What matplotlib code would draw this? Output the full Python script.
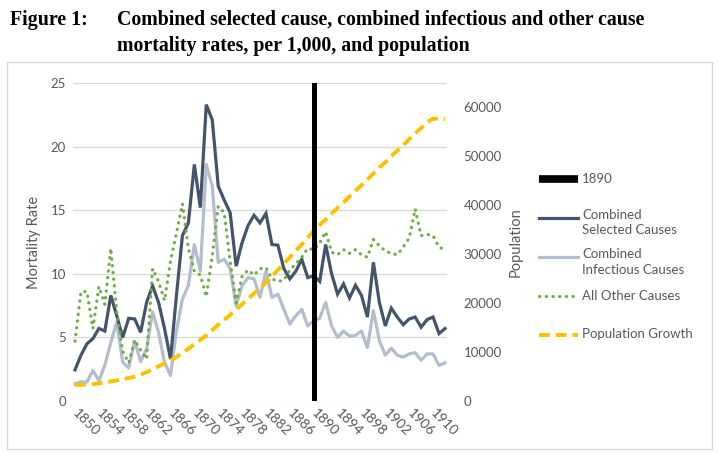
import matplotlib.pyplot as plt
import numpy as np
from matplotlib.lines import Line2D
from matplotlib.patches import Rectangle

# values, one per year 1850..1912
years = np.arange(1850, 1913)

selected = [2.45, 3.6, 4.5, 4.9, 5.7, 5.5, 8.3, 6.7, 5.0, 6.5,
            6.45, 5.4, 7.75, 9.05, 7.75, 5.7, 3.3, 8.3, 13.0, 14.0,
            18.6, 15.2, 23.3, 22.1, 16.9, 15.8, 14.8, 10.6, 12.45, 13.8,
            14.6, 14.0, 14.75, 12.3, 12.25, 10.4, 9.6, 10.2, 11.15, 9.7,
            9.85, 9.4, 12.3, 10.0, 8.4, 9.2, 8.1, 9.1, 8.3, 6.6,
            10.9, 7.75, 5.9, 7.3, 6.6, 6.0, 6.45, 6.6, 5.8, 6.4,
            6.6, 5.3, 5.7]

infectious = [1.35, 1.5, 1.5, 2.4, 1.6, 2.8, 4.6, 6.2, 3.05, 2.6,
              4.7, 3.1, 4.1, 7.0, 5.4, 3.05, 2.0, 5.5, 8.0, 9.1,
              12.3, 10.2, 18.6, 16.9, 10.9, 11.15, 10.4, 7.5, 9.05, 9.7,
              9.6, 8.15, 10.2, 8.15, 8.4, 7.2, 6.05, 6.7, 7.2, 5.9,
              6.3, 6.5, 7.75, 5.9, 5.0, 5.5, 5.1, 5.15, 5.5, 4.2,
              7.1, 4.75, 3.6, 4.15, 3.6, 3.45, 3.7, 3.8, 3.2, 3.7,
              3.7, 2.8, 3.0]

other = [4.7, 8.6, 8.6, 5.7, 9.0, 7.6, 12.0, 7.0, 3.9, 3.0,
         4.8, 4.0, 3.3, 10.4, 9.4, 7.9, 11.0, 13.2, 15.5, 12.0,
         10.2, 9.9, 8.2, 11.4, 15.3, 14.8, 11.0, 7.7, 9.8, 10.3,
         9.9, 10.4, 10.5, 9.6, 9.4, 9.5, 10.3, 10.8, 11.3, 12.0,
         11.9, 12.4, 13.3, 11.7, 11.5, 11.9, 11.6, 11.9, 11.5, 11.3,
         12.7, 12.2, 11.8, 11.6, 11.5, 12.1, 12.8, 15.1, 13.0, 13.1,
         13.0, 12.1, 11.9]

population = [3300, 3300, 3350, 3450, 3600, 3800, 4000, 4200, 4450, 4700,
              5000, 5400, 5900, 6500, 7100, 7700, 8300, 9000, 9800, 10700,
              11600, 12500, 13400, 14500, 15600, 16600, 17600, 18700, 19800, 20900,
              22000, 23100, 24200, 25500, 26800, 28100, 29400, 30700, 32000, 33400,
              34800, 36000, 37100, 38300, 39500, 40600, 41800, 43000, 44100, 45300,
              46500, 47700, 48800, 50000, 51200, 52300, 53500, 54700, 55800, 57000,
              57700, 57700, 57600]

marker_year = 1890
year_ticks = np.arange(1850, 1911, 4)
rate_ticks = [0, 5, 10, 15, 20, 25]
pop_ticks = [0, 10000, 20000, 30000, 40000, 50000, 60000]

W, H = 718, 454


def fx(x):
    return x / W


def fy(y):
    return 1 - y / H


plt.rcParams["font.family"] = ["Lato", "DejaVu Sans"]
grey_txt = "#595959"
c_sel = "#44546A"
c_inf = "#B4BDCE"
c_oth = "#70AD47"
c_pop = "#FFC000"

fig = plt.figure(figsize=(W / 100, H / 100), dpi=100)
fig.patch.set_facecolor("white")

# chart area border
fig.add_artist(Rectangle((fx(7), fy(449)), fx(705), (449 - 62) / H, transform=fig.transFigure,
                         fill=False, edgecolor="#D9D9D9", lw=1))

# title
tfont = dict(family="Liberation Serif", weight="bold", size=14.3, color="black")
fig.text(fx(10), fy(20), "Figure 1:", va="center", ha="left", **tfont)
fig.text(fx(117), fy(20), "Combined selected cause, combined infectious and other cause",
         va="center", ha="left", **tfont)
fig.text(fx(117), fy(46), "mortality rates, per 1,000, and population", va="center", ha="left", **tfont)

ax = fig.add_axes([fx(73), fy(401), (447 - 73) / W, (401 - 83) / H])
ax2 = ax.twinx()

per_year = 5.97
ax.set_xlim(1850 - 2 / per_year, 1912 + 2 / per_year)
ax.set_ylim(0, 25)
ax2.set_ylim(0, 65000)

ax.plot(years, selected, color=c_sel, lw=2.3, solid_joinstyle="miter", zorder=3)
ax.plot(years, infectious, color=c_inf, lw=2.3, zorder=2)
ax.plot(years, other, color=c_oth, lw=2.3, linestyle=(0, (0.1, 2.0)), dash_capstyle="round", zorder=4)
ax2.plot(years, population, color=c_pop, lw=2.8, linestyle=(0, (2.8, 1.5)), zorder=3)
ax2.axvline(marker_year, color="black", lw=3.6, zorder=5)

ax.set_yticks(rate_ticks)
ax.grid(axis="y", color="#D9D9D9", lw=0.9)
ax.set_axisbelow(True)
ax2.set_yticks(pop_ticks)
ax.set_xticks(year_ticks)
ax.set_xticklabels([str(y) for y in year_ticks], rotation=-45, ha="left", va="center",
                   rotation_mode="anchor")

for a in (ax, ax2):
    for s in a.spines.values():
        s.set_visible(False)
    a.tick_params(length=0, labelsize=9.5, labelcolor=grey_txt)
ax.tick_params(axis="x", labelsize=10, pad=7)
ax.tick_params(axis="y", pad=5)
ax2.tick_params(axis="y", pad=12)

ax.set_ylabel("Mortality Rate", fontsize=10.5, color=grey_txt, labelpad=7)
ax2.set_ylabel("Population", fontsize=10.5, color=grey_txt, labelpad=5)

# legend drawn by hand so the markers sit on the first text line
lx0, lx1, tx = 539, 578, 582
ltxt = dict(fontsize=9.5, color=grey_txt, ha="left", transform=fig.transFigure)
fig.add_artist(Line2D([fx(lx0), fx(lx1)], [fy(179), fy(179)], color="black", lw=5.5,
                      solid_capstyle="butt", transform=fig.transFigure))
fig.text(fx(tx), fy(179), "1890", va="center", **ltxt)
fig.add_artist(Line2D([fx(lx0), fx(lx1)], [fy(217.5), fy(217.5)], color=c_sel, lw=2.3,
                      transform=fig.transFigure))
fig.text(fx(tx), fy(209), "Combined\nSelected Causes", va="top", linespacing=1.35, **ltxt)
fig.add_artist(Line2D([fx(lx0), fx(lx1)], [fy(256.5), fy(256.5)], color=c_inf, lw=2.3,
                      transform=fig.transFigure))
fig.text(fx(tx), fy(248), "Combined\nInfectious Causes", va="top", linespacing=1.35, **ltxt)
fig.add_artist(Line2D([fx(lx0), fx(lx1)], [fy(295.5), fy(295.5)], color=c_oth, lw=2.3,
                      linestyle=(0, (0.1, 2.0)), dash_capstyle="round", transform=fig.transFigure))
fig.text(fx(tx), fy(295.5), "All Other Causes", va="center", **ltxt)
fig.add_artist(Line2D([fx(lx0), fx(lx1)], [fy(334.5), fy(334.5)], color=c_pop, lw=2.8,
                      linestyle=(0, (2.8, 1.5)), transform=fig.transFigure))
fig.text(fx(tx), fy(334.5), "Population Growth", va="center", **ltxt)

fig.savefig("out.png", dpi=100)
